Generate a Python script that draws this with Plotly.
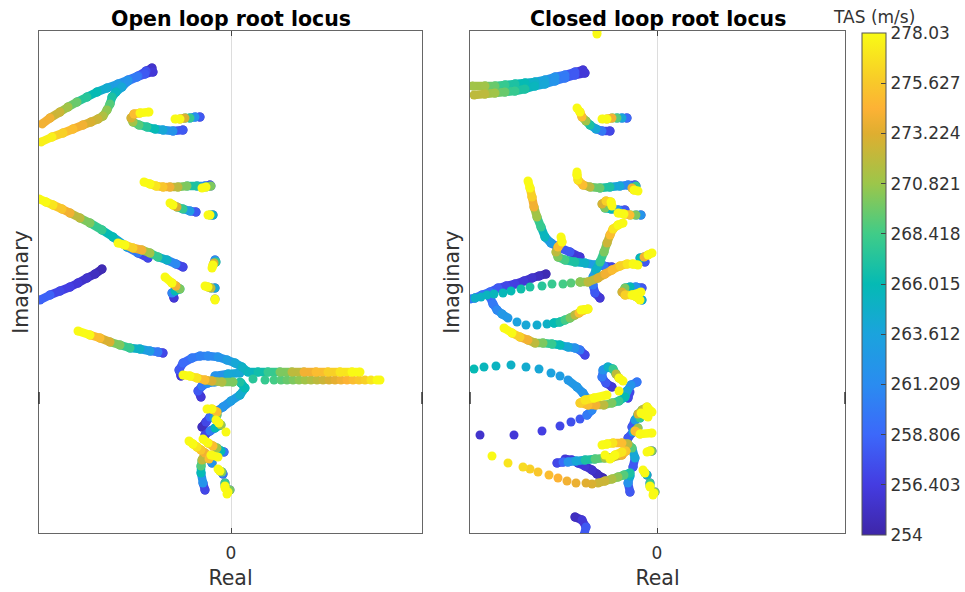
import plotly.graph_objects as go
import numpy as np

# (real, imaginary, TAS) samples
ol_upper_a = [(-79,330,254),(-85,327,255.5),(-93,322,257.5),(-103,318,259.5),(-113,314,261.5),(-124,310,263),(-134,306,264.5),(-144,301,266),(-154,296,267.5),(-163,291,269.5),(-171,286,271),(-181,280,272.5),(-189,274,274)]
ol_upper_b = [(-78,326,254),(-86,324,256),(-94,321,258),(-103,317,260),(-109,311,262),(-115,306,264),(-119,301,265.5),(-121,294,267),(-124,288,269),(-128,282,270.5),(-133,279,271.5),(-140,276,272.5),(-148,273,273),(-158,269,274),(-168,265,275),(-179,261,276),(-190,256,277.5)]
ol_hook = [(-48,268,254),(-58,267,258),(-68,268,262),(-76,269,264),(-84,271,266),(-92,273,267.5),(-98,276,269),(-100,280,271),(-97,284,273),(-91,285,275),(-82,286,278)]
ol_short_top = [(-31,281,254),(-36,281,258),(-41,280,262),(-46,280,268),(-51,279,273),(-56,279,278)]
ol_mid_a = [(-21,213,254),(-26,212,258),(-34,212,262),(-44,212,267),(-53,211,270),(-61,211,272),(-68,211,274),(-75,212,275.5),(-81,214,277),(-87,216,278)]
ol_mid_b = [(-20,212,258),(-25,211,270),(-29,210,278)]
ol_mid_c = [(-35,186,254),(-41,187,258),(-48,189,263),(-54,191,268),(-58,193,273),(-61,195,278)]
ol_mid_d = [(-18,183,255),(-21,183,265),(-23,183,278)]
ol_long_a = [(-48,131,254),(-55,134,257),(-64,138,261),(-73,141,265),(-81,145,268),(-89,148,271),(-98,150,274),(-106,153,276),(-113,155,278)]
ol_long_b = [(-83,140,254),(-93,145,257),(-104,151,260),(-118,161,264),(-129,168,266),(-141,175,268),(-151,180,270),(-161,185,272),(-169,189,274),(-178,193,275.5),(-185,196,277),(-192,199,278)]
ol_low = [(-129,129,254),(-136,124,254.5),(-144,120,255),(-153,115,255.5),(-161,111,256),(-171,107,256.5),(-181,103,257),(-191,98,258.5)]
ol_l11 = [(-57,100,254),(-59,105,256),(-56,107,261),(-51,109,266),(-55,112,270),(-59,115,274),(-66,121,278)]
ol_l12 = [(-16,138,256),(-15,136,262),(-17,135,268),(-18,133,273),(-19,130,278)]
ol_l13 = [(-16,110,254),(-20,110,264),(-23,111,272),(-26,112,278)]
ol_l14 = [(-16,99,258),(-16,98,278)]
ol_l15 = [(-68,45,254),(-73,46,257),(-81,47,260),(-91,49,263),(-101,50,265),(-111,53,268),(-121,56,270),(-131,60,273),(-141,63,275),(-153,67,278)]
ol_loop = [(-50,22,254),(-52,28,256),(-48,35,258),(-39,40,259),(-31,42,260),(-23,42,260.5),(-13,41,261),(-4,38,262),(4,35,263),(11,31,264),(17,26,265),(27,26,265.5),(37,26,266.5),(49,26,268),(61,26,270),(73,26,272),(85,26,274),(97,26,275),(109,26,276),(121,26,277),(129,26,278)]
ol_wedge = [(-16,22,261),(-3,24,262),(9,25,264)]
ol_yellow_arc = [(2,16,268.5),(-9,16,270),(-19,17,271.5),(-26,18,273),(-34,20,275),(-41,22,277),(-48,23,278)]
ol_blue_arc = [(-30,1,254),(-33,7,256),(-29,12,258),(-23,15,260),(-16,16,262)]
ol_dots = [(9,16,267),(22,19,267.5),(34,18,268),(43,18,268.5),(50,18,269),(56,18,269.5),(62,18,270),(68,18,270.5),(74,18,271),(80,18,271.5),(86,18,272),(92,18,272.5),(98,18,273),(104,18,273.5),(110,18,274),(116,18,274.5),(122,18,275),(128,18,275.5),(134,18,276),(140,18,277),(146,18,278),(149,18,278)]
ol_teal_curve = [(-29,-29,254),(-25,-24,255),(-21,-19,257),(-14,-13,259),(-8,-9,261),(0,-3,262),(9,3,263),(14,10,264.5),(10,15,266)]
ol_f = [(-17,-20,258),(-14,-17,263),(-14,-14,270),(-19,-11,275),(-24,-11,278)]
ol_e = [(-26,-37,254),(-21,-33,257),(-16,-30,260),(-10,-27,266),(-12,-25,271),(-15,-22,278)]
ol_dot = [(-5,-34,278)]
ol_g = [(-26,-92,254),(-28,-85,257),(-30,-75,262),(-30,-68,266),(-29,-62,269),(-26,-55,272),(-30,-52,274),(-34,-49,275.5),(-38,-46,277),(-42,-43,278)]
ol_h = [(-7,-54,254),(-10,-53,260),(-14,-50,266),(-18,-48,271),(-23,-45,275),(-28,-41,278)]
ol_i = [(-19,-65,254),(-22,-61,262),(-20,-57,275),(-13,-59,278)]
ol_j = [(-8,-76,254),(-9,-74,260),(-11,-73,270),(-13,-71,278)]
ol_k = [(-6,-85,256),(-6,-88,268),(-6,-90,278)]
ol_l = [(-1,-92,258),(-3,-94,270),(-4,-96,278)]

cl_top = [(-60,368,278),(-60,364,278)]
cl_a = [(-74,328,254),(-82,326,256),(-92,323,258),(-102,321,260),(-112,318,262),(-122,316,263.5),(-132,315,265),(-142,314,266),(-152,313,267),(-162,312,268),(-172,312,269.5),(-185,312,271)]
cl_b = [(-72,325,254),(-82,323,256),(-92,320,258),(-102,317,260),(-112,314,262),(-122,312,264),(-132,309,265.5),(-142,307,267),(-152,306,268),(-162,305,269.5),(-172,304,271),(-183,303,272)]
cl_c = [(-47,267,254),(-55,267,257),(-61,269,260),(-67,273,264),(-71,277,267),(-75,281,271),(-77,286,275),(-80,290,278)]
cl_d = [(-30,280,254),(-35,280,259),(-40,280,264),(-45,280,269),(-50,279,274),(-55,279,278)]
cl_e = [(-22,213,254),(-29,213,258),(-37,212,261),(-47,211,264),(-57,210,267),(-67,211,269.5),(-74,213,272),(-79,218,275),(-80,223,277),(-80,226,278)]
cl_f = [(-21,212,256),(-25,210,268),(-23,208,274),(-19,207,278)]
cl_g = [(-32,188,254),(-39,188,258),(-46,189,262),(-52,190,266),(-55,194,270),(-51,197,273),(-46,196,276),(-45,192,278)]
cl_h = [(-16,183,254),(-21,183,262),(-27,183,270),(-33,184,275),(-39,185,278)]
cl_i = [(-77,141,254),(-87,146,256),(-99,151,258),(-106,155,260),(-112,161,263),(-116,171,265.5),(-120,181,268),(-123,191,271),(-125,201,274),(-127,210,276),(-129,217,278)]
cl_j = [(-45,131,254),(-53,132,257),(-62,133,260),(-72,135,263),(-82,136,265),(-92,138,267),(-99,141,268.5),(-101,146,270),(-99,151,272),(-95,156,275),(-96,161,278)]
cl_k = [(-57,100,254),(-62,105,256),(-64,113,258),(-64,121,260),(-61,128,263),(-57,136,265),(-53,146,268),(-50,155,270),(-47,163,272.5),(-44,169,275),(-39,173,277),(-34,175,278)]
cl_l = [(-12,136,254),(-17,140,258),(-13,141,266),(-9,143,274),(-5,145,278)]
cl_m_dots = [(-182,100,265),(-176,101,265.2),(-170,103,265.4),(-163,104,265.6),(-154,105,265.8),(-146,107,266),(-136,109,266.5),(-127,111,267),(-115,112,267.5),(-105,114,268),(-94,114,268.5),(-86,115,269),(-77,116,269.5)]
cl_n = [(-77,116,269.5),(-69,116,270.5),(-59,120,272),(-52,124,273),(-45,128,274),(-37,132,275),(-30,134,276),(-24,134,277),(-19,133,278)]
cl_o = [(-111,124,254),(-118,122,254.5),(-125,120,255),(-133,117,255.5),(-142,114,256),(-151,112,256.5),(-159,110,257),(-167,106,258),(-175,103,259),(-182,100,259.5),(-187,99,260)]
cl_p1 = [(-167,101,258),(-164,94,259),(-160,88,260),(-155,84,261),(-149,80,262.5)]
cl_p2_dots = [(-140,76,263.5),(-131,73,264),(-120,73,264.5),(-110,74,265),(-103,75,265.5)]
cl_p3 = [(-103,75,265.5),(-97,76,266),(-92,78,267),(-87,80,268.5),(-82,83,270),(-78,85,272),(-73,88,275),(-69,89,276),(-76,88,278)]
cl_q = [(-72,43,254),(-77,48,257),(-82,50,260),(-89,51,262),(-97,53,264),(-105,54,266),(-114,55,268),(-122,55,270),(-129,58,272),(-137,61,274),(-145,65,276),(-153,70,278)]
cl_r = [(-15,110,254),(-21,111,258),(-27,111,262),(-32,110,266),(-35,106,270),(-32,103,273),(-25,103,276),(-16,106,278)]
cl_s = [(-15,98,258),(-20,101,265),(-22,102,272),(-17,98,278)]
cl_t1_dots = [(-177,-37,255.5),(-143,-37,256),(-115,-33,256.5),(-97,-28,257),(-86,-24,257.5),(-77,-21,258),(-70,-17,259)]
cl_t2 = [(-70,-17,259),(-65,-12,260),(-67,-4,261),(-74,5,261.5),(-80,11,262),(-89,18,262.5)]
cl_t3_dots = [(-97,22,263),(-106,25,263.5),(-118,29,264),(-131,31,264.5),(-146,33,265),(-161,32,265.3),(-173,31,265.6),(-183,29,266)]
cl_u = [(-45,11,254),(-51,15,256),(-55,21,258),(-54,28,260),(-49,31,262),(-44,29,265),(-41,24,268),(-38,20,272),(-34,17,278)]
cl_v = [(-20,16,258),(-26,13,260),(-30,7,262),(-32,1,264),(-38,-3,266),(-45,-5,268),(-53,-7,270),(-61,-7,272),(-69,-7,274),(-77,-5,275),(-72,-2,276),(-63,0,277),(-50,3,278)]
cl_v_dot = [(-38,7,278)]
cl_w = [(-29,0,254),(-27,6,257)]
cl_x = [(-25,-29,254),(-22,-22,258),(-19,-17,263),(-15,-12,268),(-10,-9,272),(-5,-14,278)]
cl_y = [(-17,-20,262),(-19,-16,268),(-16,-15,273),(-9,-19,278)]
cl_z = [(-29,-40,254),(-24,-34,258),(-19,-30,264),(-22,-33,271),(-17,-36,275),(-5,-35,278)]
cl_aa = [(-5,-53,256),(-7,-53,270),(-10,-54,278)]
cl_ab = [(-10,-77,254),(-12,-75,265),(-14,-72,278)]
cl_ac = [(-7,-85,256),(-7,-88,268),(-7,-89,278)]
cl_ad = [(-2,-94,258),(-3,-95,270),(-4,-97,278)]
cl_ae = [(-27,-94,254),(-29,-85,258),(-27,-78,262),(-27,-75,265),(-33,-77,267),(-39,-79,269),(-45,-81,270.5),(-52,-83,271.5),(-59,-85,272.5)]
cl_ae_dots = [(-65,-86,273),(-71,-85,273.3),(-81,-85,273.7),(-90,-83,274),(-99,-80,274.5),(-108,-77,275),(-119,-74,275.5),(-127,-71,276),(-134,-69,276.5),(-149,-65,277),(-165,-58,278)]
cl_af = [(-100,-65,256),(-94,-64,257),(-89,-64,259),(-81,-63,262),(-72,-62,264),(-62,-61,267),(-52,-60,269),(-44,-59,271),(-35,-57,272.5),(-31,-53,274),(-35,-54,275.5),(-42,-57,277),(-47,-61,278)]
cl_af_dot = [(-52,-57,278)]
cl_ag = [(-54,-80,254),(-60,-76,254.5),(-65,-72,255),(-72,-68,255.5),(-79,-65,256),(-85,-62,256),(-92,-61,256)]
cl_ah = [(-24,-69,254),(-22,-60,258),(-25,-50,264),(-29,-46,269),(-35,-45,272),(-44,-45,275),(-50,-46,277),(-55,-47,278)]
cl_ai = [(-82,-119,254),(-75,-122,255),(-71,-129,256),(-73,-137,258)]

open_lines = [ol_upper_a, ol_upper_b, ol_hook, ol_short_top, ol_mid_a, ol_mid_b, ol_mid_c, ol_mid_d, ol_long_a, ol_long_b,
              ol_low, ol_l11, ol_l12, ol_l13, ol_l14, ol_l15, ol_loop, ol_wedge, ol_yellow_arc, ol_blue_arc, ol_teal_curve,
              ol_f, ol_e, ol_g, ol_h, ol_i, ol_j, ol_k, ol_l]
open_dots = [ol_dots, ol_dot]
closed_lines = [cl_top, cl_a, cl_b, cl_c, cl_d, cl_e, cl_f, cl_g, cl_h, cl_i, cl_j, cl_k, cl_l, cl_n, cl_o, cl_p1, cl_p3, cl_q,
                cl_r, cl_s, cl_t2, cl_u, cl_v, cl_w, cl_x, cl_y, cl_z, cl_aa, cl_ab, cl_ac, cl_ad, cl_ae, cl_af, cl_ag, cl_ah, cl_ai]
closed_dots = [cl_m_dots, cl_p2_dots, cl_t1_dots, cl_t3_dots, cl_v_dot, cl_ae_dots, cl_af_dot]

tas_min, tas_max = 254, 278.03
cbar_ticks = [254, 256.403, 258.806, 261.209, 263.612, 266.015, 268.418, 270.821, 273.224, 275.627, 278.03]
cbar_labels = ["254", "256.403", "258.806", "261.209", "263.612", "266.015", "268.418", "270.821", "273.224", "275.627", "278.03"]
stops = [0, .1, .2, .3, .4, .5, .6, .7, .8, .85, .9, 1]
stop_rgb = [(62,38,168),(68,60,225),(60,104,250),(42,140,240),(27,163,221),(5,186,180),(64,204,136),(156,198,74),(223,174,48),(253,178,53),(248,200,42),(249,251,21)]
colorscale = [[s, "rgb(%d,%d,%d)" % c] for s, c in zip(stops, stop_rgb)]

def rgb_at(tas):
    t = (tas - tas_min) / (tas_max - tas_min)
    c = [np.interp(t, stops, [r[k] for r in stop_rgb]) for k in range(3)]
    return "rgb(%d,%d,%d)" % tuple(int(v) for v in c)

def add_panel(fig, lines, dots, col):
    nbins = 49
    binned = [dict(x=[], y=[], c=[]) for _ in range(nbins)]
    def idx(t):
        return min(nbins - 1, int((t - tas_min) / (tas_max - tas_min) * (nbins - 1) + .5))
    for br in lines:
        for i, (re, im, t) in enumerate(br):
            b = binned[idx(t)]
            if i:
                b["x"] += [br[i-1][0], re, None]
                b["y"] += [br[i-1][1], im, None]
                b["c"] += [t, t, t]
            else:
                b["x"] += [re, None]
                b["y"] += [im, None]
                b["c"] += [t, t]
    for br in dots:
        for re, im, t in br:
            b = binned[idx(t)]
            b["x"] += [re, None]
            b["y"] += [im, None]
            b["c"] += [t, t]
    for k, b in enumerate(binned):
        if not b["x"]:
            continue
        fig.add_trace(go.Scatter(
            x=b["x"], y=b["y"], mode="lines+markers", showlegend=False, hoverinfo="skip",
            line=dict(color=rgb_at(tas_min + k / (nbins - 1) * (tas_max - tas_min)), width=8.5),
            marker=dict(size=9, color=b["c"], coloraxis="coloraxis", line=dict(width=0)),
            xaxis="x" if col == 1 else "x2", yaxis="y" if col == 1 else "y2"))

fig = go.Figure()
add_panel(fig, open_lines, open_dots, 1)
add_panel(fig, closed_lines, closed_dots, 2)

# the colorbar labels reserve about 2 px of right margin, so the figure is 2 px wider than the plotting width
W, H = 965, 592
def fx(px):
    return px / W
def fy(py):
    return 1 - py / H
font = "DejaVu Sans"
ax = dict(showgrid=False, zeroline=False, showline=True, linecolor="#666", linewidth=1, mirror="ticks",
          tickcolor="#444", tickfont=dict(family=font, size=17, color="#333"), title_font=dict(family=font, size=20.5, color="#333"))
ydom = [fy(533), fy(31)]
xt = dict(ticks="inside", ticklen=5, ticklabelstandoff=5, tickvals=[0], ticktext=["0"], zeroline=True, zerolinecolor="#ddd", zerolinewidth=1, title_text="Real", title_standoff=8)
yt = dict(ticks="", tickvals=[0], ticktext=[""], title_text="Imaginary", range=[-135, 367])

def edge_marks(xref):
    return [dict(type="line", xref=xref + " domain", yref="y" if xref == "x" else "y2", x0=v, x1=v, y0=-6, y1=6,
                 line=dict(color="#333", width=1.5)) for v in (0, 1)]

fig.update_layout(
    width=W + 2, height=H, autosize=False, margin=dict(l=0, r=0, t=0, b=0), paper_bgcolor="white", plot_bgcolor="white",
    xaxis=dict(ax, **xt, domain=[fx(39), fx(422)], range=[-192, 191]),
    yaxis=dict(ax, **yt, domain=ydom, title_standoff=0),
    xaxis2=dict(ax, **xt, domain=[fx(470), fx(845)], range=[-187, 188], anchor="y2"),
    yaxis2=dict(ax, **yt, domain=ydom, title_standoff=0, anchor="x2"),
    coloraxis=dict(cmin=tas_min, cmax=tas_max, colorscale=colorscale,
                   colorbar=dict(x=fx(862), xanchor="left", y=fy(535), yanchor="bottom", len=502 / H, lenmode="fraction", xpad=0, ypad=0,
                                 thickness=24, thicknessmode="pixels", outlinecolor="#555", outlinewidth=1,
                                 tickmode="array", tickvals=cbar_ticks, ticktext=cbar_labels, ticks="inside", ticklen=5,
                                 tickcolor="#444", tickfont=dict(family=font, size=17, color="#333"))),
    shapes=edge_marks("x") + edge_marks("x2"),
    annotations=[
        dict(text="<b>Open loop root locus</b>", x=fx(231), y=fy(19), xref="paper", yref="paper", xanchor="center", yanchor="middle", showarrow=False, font=dict(family=font, size=20.5, color="black")),
        dict(text="<b>Closed loop root locus</b>", x=fx(658), y=fy(19), xref="paper", yref="paper", xanchor="center", yanchor="middle", showarrow=False, font=dict(family=font, size=20.5, color="black")),
        dict(text="TAS (m/s)", x=fx(874), y=fy(17), xref="paper", yref="paper", xanchor="center", yanchor="middle", showarrow=False, font=dict(family=font, size=17, color="#333")),
    ])
# the page's default 8 px body margin would push the fixed-size figure off the 965x592 window
fig.write_html("out.html", config={"displayModeBar": False},
               post_script="document.body.style.margin='0';document.documentElement.style.overflow='hidden';")
